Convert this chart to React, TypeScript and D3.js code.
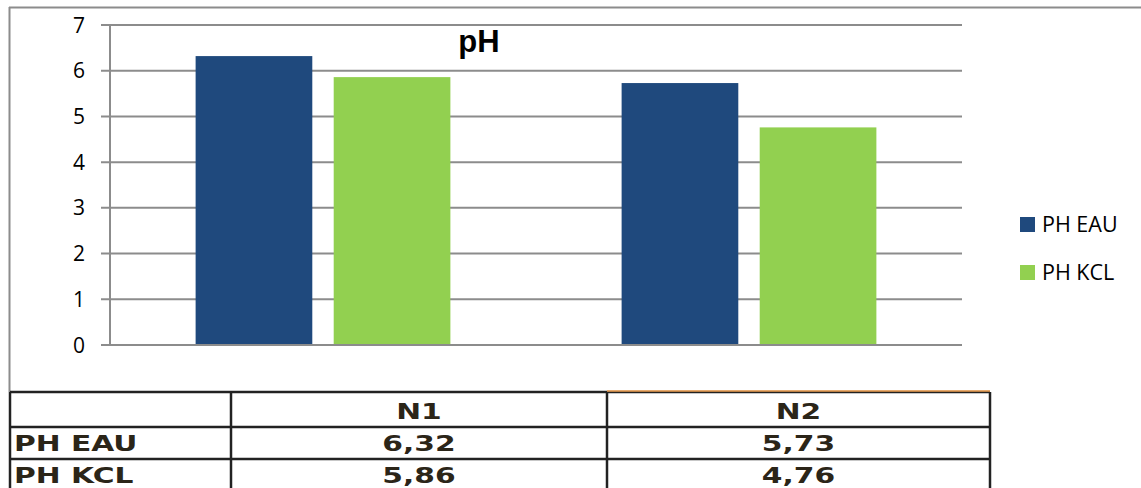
import React from 'react';
import * as d3 from 'd3';

const categories = ['N1', 'N2'];
const seriesNames = ['PH EAU', 'PH KCL'];
const phEau = [6.32, 5.73];
const phKcl = [5.86, 4.76];
const yTicks = [0, 1, 2, 3, 4, 5, 6, 7];
const colors = ['#1f497d', '#92d050'];

const W = 1141;
const H = 488;
const plot = { left: 110, right: 962, top: 25, bottom: 345 };
const tableCols = [10, 231, 607, 990];
const tableRows = [392, 427, 459, 491];

export default function App() {
  const series = [phEau, phKcl];
  const x0 = d3.scaleBand().domain(categories).range([plot.left, plot.right]).paddingInner(0).paddingOuter(0);
  const x1 = d3.scaleBand().domain(seriesNames).range([0, x0.bandwidth()]).paddingInner(0.155).paddingOuter(0.62);
  const y = d3.scaleLinear().domain([0, 7]).range([plot.bottom, plot.top]);

  const fmt = (v: number) => v.toFixed(2).replace('.', ',');
  const tableFont = "'DejaVu Sans', Verdana, sans-serif";
  const textColor = '#2b2518';
  const sans = "'Open Sans', 'Liberation Sans', sans-serif";

  // table text is wide (stretched Verdana look)
  const cell = (key: string, label: string, cx: number, cy: number, anchor: 'start' | 'middle') => (
    <g key={key} transform={`translate(${cx},${cy}) scale(1.45,1)`}>
      <text x={0} y={0} dy="0.36em" textAnchor={anchor} fontSize={20.5} fontWeight="bold"
        fontFamily={tableFont} fill={textColor}>{label}</text>
    </g>
  );

  return (
    <svg width={W} height={H} style={{ position: 'absolute', left: 0, top: 0, background: '#fff' }}>
      {/* outer chart frame */}
      <line x1={9} x2={W} y1={7.5} y2={7.5} stroke="#8c8c8c" strokeWidth={2} />
      <line x1={9.5} x2={9.5} y1={7} y2={392} stroke="#8c8c8c" strokeWidth={2} />

      {/* grid + ticks */}
      {yTicks.map(t => (
        <g key={t}>
          <line x1={plot.left - 9} x2={plot.right} y1={y(t)} y2={y(t)} stroke="#8c8c8c" strokeWidth={2} />
          <text x={85} y={y(t)} dy="0.36em" textAnchor="end" fontSize={21}
            fontFamily={sans} fill="#000">{t}</text>
        </g>
      ))}
      <line x1={plot.left} x2={plot.left} y1={plot.top} y2={plot.bottom} stroke="#8c8c8c" strokeWidth={2} />

      {/* bars */}
      {categories.map((c, i) => (
        <g key={c} transform={`translate(${x0(c)},0)`}>
          {seriesNames.map((s, j) => (
            <rect key={s} x={x1(s)} y={y(series[j][i])} width={x1.bandwidth()}
              height={y(0) - y(series[j][i])} fill={colors[j]} />
          ))}
        </g>
      ))}
      <line x1={plot.left - 9} x2={plot.right} y1={y(0)} y2={y(0)} stroke="#8c8c8c" strokeWidth={2} />

      {/* title */}
      <text x={479} y={52} textAnchor="middle" fontSize={31} fontWeight="bold"
        fontFamily="'Liberation Sans', Arial, sans-serif" fill="#000">pH</text>

      {/* legend */}
      {seriesNames.map((s, j) => (
        <g key={s} transform={`translate(1020,${217 + j * 48})`}>
          <rect x={0} y={0} width={15} height={15} fill={colors[j]} />
          <text x={22} y={7.5} dy="0.36em" fontSize={21.5} fontFamily={sans} fill="#000">{s}</text>
        </g>
      ))}

      {/* data table */}
      <g>
        {tableRows.map(r => (
          <line key={r} x1={tableCols[0]} x2={tableCols[3]} y1={r} y2={r} stroke="#222" strokeWidth={2.5} />
        ))}
        <line x1={tableCols[2]} x2={tableCols[3]} y1={391} y2={391} stroke="#f0a050" strokeWidth={1.5} />
        {tableCols.map(c => (
          <line key={c} x1={c} x2={c} y1={tableRows[0]} y2={H} stroke="#222" strokeWidth={2.5} />
        ))}
        {categories.map((c, i) =>
          cell(`h${c}`, c, (tableCols[i + 1] + tableCols[i + 2]) / 2, (tableRows[0] + tableRows[1]) / 2 + 2, 'middle')
        )}
        {seriesNames.map((s, j) => (
          <g key={s}>
            {cell(`r${s}`, s, tableCols[0] + 4, (tableRows[j + 1] + tableRows[j + 2]) / 2 + 1, 'start')}
            {categories.map((c, i) =>
              cell(`${s}${c}`, fmt(series[j][i]), (tableCols[i + 1] + tableCols[i + 2]) / 2,
                (tableRows[j + 1] + tableRows[j + 2]) / 2 + 1, 'middle')
            )}
          </g>
        ))}
      </g>
    </svg>
  );
}
